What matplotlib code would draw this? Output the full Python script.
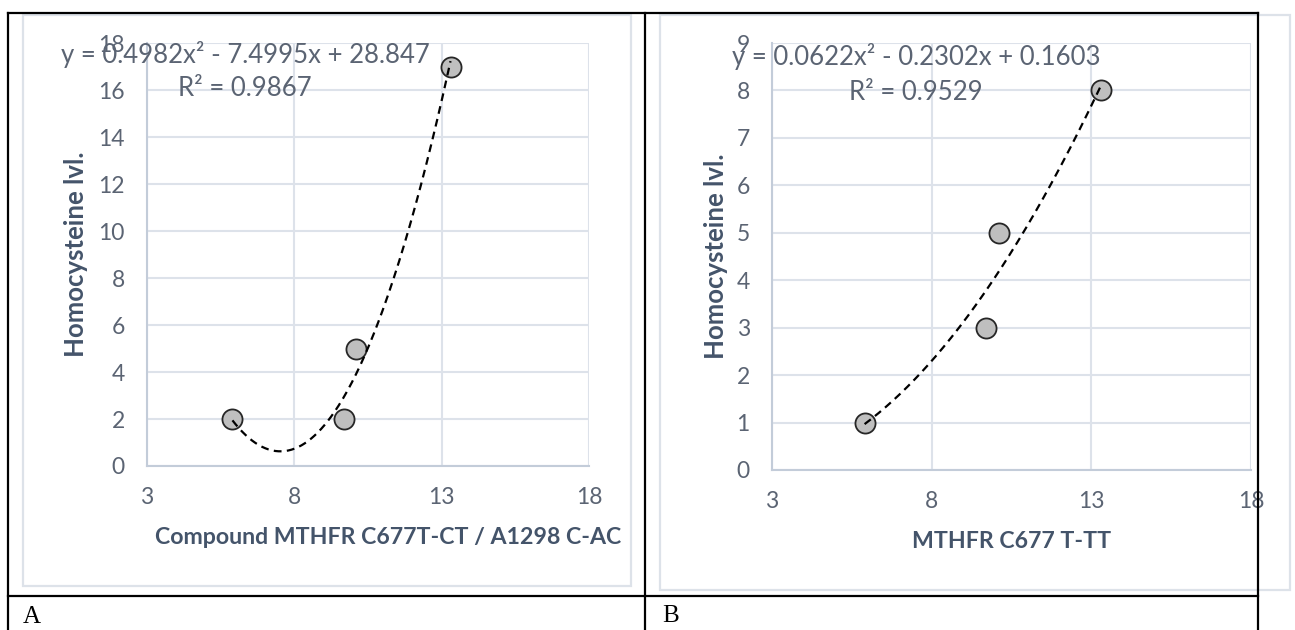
import numpy as np
import matplotlib.pyplot as plt
from matplotlib.lines import Line2D
from matplotlib.patches import Rectangle

W, H = 1295, 630

# values
genotype_x = [5.9, 9.7, 10.1, 13.3]
hcy_compound = [2, 2, 5, 17]
hcy_tt = [1, 3, 5, 8]
coef_compound = [0.4982, -7.4995, 28.847]
coef_tt = [0.0622, -0.2302, 0.1603]
r2_compound = 0.9867
r2_tt = 0.9529
x_ticks = [3, 8, 13, 18]
y_ticks_compound = list(range(0, 19, 2))
y_ticks_tt = list(range(0, 10))
xlabel_compound = "Compound MTHFR C677T-CT / A1298 C-AC"
xlabel_tt = "MTHFR C677 T-TT"
ylabel = "Homocysteine lvl."

TICK_COLOR = '#5b6473'
TITLE_COLOR = '#44546a'
GRID_COLOR = '#dde2ea'
AXIS_COLOR = '#c3ccd9'
FRAME_COLOR = '#dde2e9'
FONT = 'Lato'


def fx(px):
    return px / W


def fy(py):
    return 1 - py / H


def equation_text(coef):
    a, b, c = coef
    sb = '-' if b < 0 else '+'
    sc = '-' if c < 0 else '+'
    return f"y = {a:g}x\u00b2 {sb} {abs(b):g}x {sc} {abs(c):g}"


def draw_chart(fig, box, xs, ys, coef, r2, yticks, xlabel, eq_pos, xl_pos, yl_pos):
    left, top, right, bottom = box
    ax = fig.add_axes([fx(left), fy(bottom), (right - left) / W, (bottom - top) / H])
    ax.set_xlim(x_ticks[0], x_ticks[-1])
    ax.set_ylim(yticks[0], yticks[-1])
    ax.set_xticks(x_ticks)
    ax.set_yticks(yticks)
    ax.grid(True, color=GRID_COLOR, linewidth=1.5, zorder=0)
    ax.set_axisbelow(True)
    for s in ['top', 'right']:
        ax.spines[s].set_visible(False)
    for s in ['left', 'bottom']:
        ax.spines[s].set_color(AXIS_COLOR)
        ax.spines[s].set_linewidth(1.5)
    ax.tick_params(length=0, labelsize=16.5, labelcolor=TICK_COLOR)
    ax.tick_params(axis='y', pad=16)
    ax.tick_params(axis='x', pad=15)
    for lab in ax.get_xticklabels() + ax.get_yticklabels():
        lab.set_fontfamily(FONT)

    ax.scatter(xs, ys, s=210, facecolor='#bfbfbf', edgecolor='#262626',
               linewidth=1.3, zorder=3, clip_on=False)
    xt = np.linspace(min(xs), max(xs), 200)
    ax.plot(xt, np.polyval(coef, xt), color='black', linewidth=1.6,
            linestyle=(0, (3.5, 2.4)), zorder=4, clip_on=False)

    ex, ey1, ey2 = eq_pos
    fig.text(fx(ex), fy(ey1), equation_text(coef), ha='center', va='center',
             fontsize=18.5, color=TICK_COLOR, family=FONT, zorder=5)
    fig.text(fx(ex), fy(ey2), f"R\u00b2 = {r2:.4f}", ha='center', va='center',
             fontsize=18.5, color=TICK_COLOR, family=FONT, zorder=5)
    fig.text(fx(xl_pos[0]), fy(xl_pos[1]), xlabel, ha='center', va='center',
             fontsize=16.7, fontweight='bold', color=TITLE_COLOR, family=FONT)
    fig.text(fx(yl_pos[0]), fy(yl_pos[1]), ylabel, ha='center', va='center',
             rotation=90, fontsize=18.5, fontweight='bold', color=TITLE_COLOR, family=FONT)
    return ax


fig = plt.figure(figsize=(W / 100, H / 100), dpi=100)

# chart frames
for (l, t, r, b) in [(23, 15, 631, 586), (660, 15, 1290, 590)]:
    fig.add_artist(Rectangle((fx(l), fy(b)), (r - l) / W, (b - t) / H,
                             transform=fig.transFigure, fill=False,
                             edgecolor=FRAME_COLOR, linewidth=1.6))

draw_chart(fig, (147, 43, 589, 466), genotype_x, hcy_compound, coef_compound,
           r2_compound, y_ticks_compound, xlabel_compound,
           (245, 55, 88), (388, 538), (76, 254))
draw_chart(fig, (772, 43, 1251, 470), genotype_x, hcy_tt, coef_tt,
           r2_tt, y_ticks_tt, xlabel_tt,
           (916, 57, 92), (1012, 542), (716, 256))

# table borders around the two charts
table_lines = [
    ((8, 1258), (13, 13)),
    ((8, 1258), (596, 596)),
    ((8, 8), (13, 630)),
    ((645, 645), (13, 630)),
    ((1258, 1258), (13, 630)),
]
for xsx, ysy in table_lines:
    fig.add_artist(Line2D([fx(v) for v in xsx], [fy(v) for v in ysy],
                          transform=fig.transFigure, color='black',
                          linewidth=1.6, zorder=10))

fig.text(fx(23), fy(617), "A", ha='left', va='center', fontsize=18,
         family='Liberation Serif', color='black')
fig.text(fx(662), fy(616), "B", ha='left', va='center', fontsize=18,
         family='Liberation Serif', color='black')

fig.savefig('out.png', dpi=100, facecolor='white')
